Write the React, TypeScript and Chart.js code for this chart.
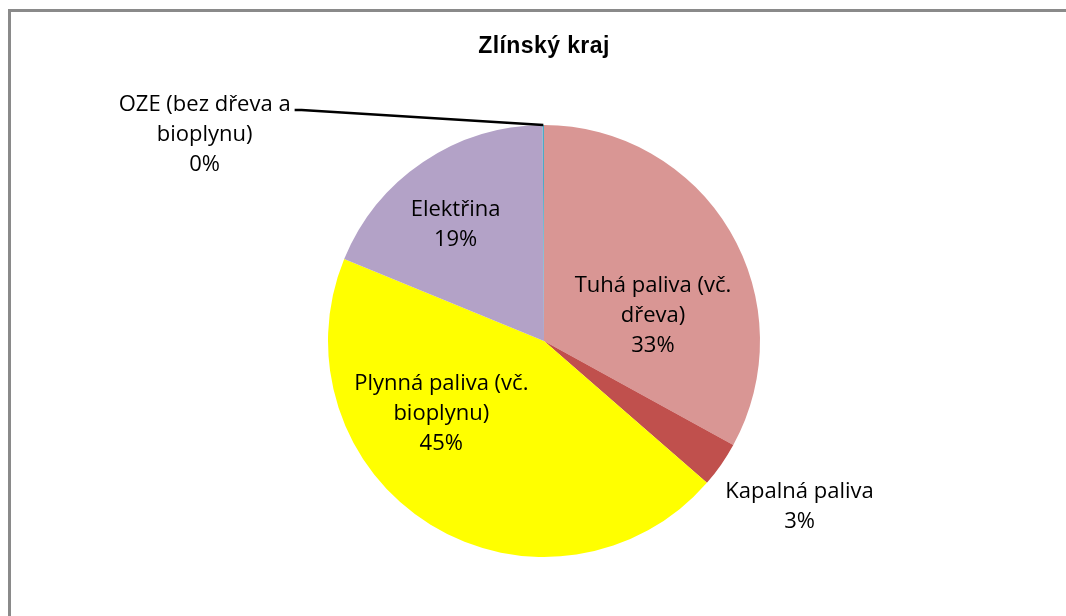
import React, { useEffect, useRef } from "react";
import { Chart, registerables } from "chart.js";

Chart.register(...registerables);

const title = "Zlínský kraj";
const categories = [
  "Tuhá paliva (vč. dřeva)",
  "Kapalná paliva",
  "Plynná paliva (vč. bioplynu)",
  "Elektřina",
  "OZE (bez dřeva a bioplynu)",
];
const labelLines = [
  ["Tuhá paliva (vč.", "dřeva)"],
  ["Kapalná paliva"],
  ["Plynná paliva (vč.", "bioplynu)"],
  ["Elektřina"],
  ["OZE (bez dřeva a", "bioplynu)"],
];
const values = [33.0, 3.4, 44.8, 18.7, 0.1];
const colors = ["#D99694", "#C0504D", "#FFFF00", "#B3A2C7", "#4BACC6"];
// label block offset from the arc's centre point (dx, dy to the middle baseline)
const labelOffsets = [
  [16, 36],
  [167, 110],
  [-46, -13],
  [-28, -20],
  [-339, -92],
];
const leaderIndex = 4;

const LABEL_FONT = "22px 'Open Sans'";
const LINE_H = 30;

const overlayPlugin = {
  id: "overlay",
  beforeDraw(chart: any) {
    const ctx = chart.ctx;
    ctx.save();
    ctx.fillStyle = "#ffffff";
    ctx.fillRect(0, 0, chart.width, chart.height);
    ctx.strokeStyle = "#8a8a8a";
    ctx.lineWidth = 3;
    ctx.strokeRect(9.5, 10.5, 1200, 800);
    ctx.restore();
  },
  afterDraw(chart: any) {
    const ctx = chart.ctx;
    const meta = chart.getDatasetMeta(0);
    const total = values.reduce((a, b) => a + b, 0);
    ctx.save();
    // title
    ctx.fillStyle = "#000";
    ctx.font = "bold 23px 'Liberation Sans', Arial, sans-serif";
    (ctx as any).letterSpacing = "0.4px";
    ctx.textAlign = "center";
    ctx.textBaseline = "alphabetic";
    ctx.fillText(title, (chart.chartArea.left + chart.chartArea.right) / 2, 53);
    (ctx as any).letterSpacing = "0px";

    ctx.font = LABEL_FONT;
    meta.data.forEach((arc: any, i: number) => {
      const c = arc.getCenterPoint();
      const [dx, dy] = labelOffsets[i];
      const cx = c.x + dx;
      const cy = c.y + dy;
      const lines = [...labelLines[i], Math.round((values[i] / total) * 100) + "%"];
      const startY = cy - ((lines.length - 1) * LINE_H) / 2;
      lines.forEach((ln, k) => ctx.fillText(ln, cx, startY + k * LINE_H));
      if (i === leaderIndex) {
        const p = arc.getProps(["x", "y", "startAngle", "endAngle", "outerRadius"], true);
        const a = (p.startAngle + p.endAngle) / 2;
        const ex = p.x + Math.cos(a) * p.outerRadius;
        const ey = p.y + Math.sin(a) * p.outerRadius;
        const w = ctx.measureText(labelLines[i][0]).width;
        const tx = cx + w / 2 + 4;
        const ty = startY - 1;
        ctx.strokeStyle = "#000";
        ctx.lineWidth = 2.5;
        ctx.beginPath();
        ctx.moveTo(tx, ty);
        ctx.lineTo(tx + 7, ty);
        ctx.lineTo(ex, ey);
        ctx.stroke();
      }
    });
    ctx.restore();
  },
};

export default function App() {
  const ref = useRef<HTMLCanvasElement>(null);
  useEffect(() => {
    if (!ref.current) return;
    const chart = new Chart(ref.current, {
      type: "pie",
      data: {
        labels: categories,
        datasets: [
          {
            data: values,
            backgroundColor: colors,
            borderWidth: 0,
          },
        ],
      },
      options: {
        responsive: false,
        animation: false,
        layout: { padding: { left: 328, right: 306, top: 125, bottom: 59 } },
        plugins: {
          legend: { display: false },
          title: { display: false },
          tooltip: { enabled: false },
        },
      },
      plugins: [overlayPlugin],
    });
    return () => chart.destroy();
  }, []);
  return (
    <div style={{ position: "fixed", left: 0, top: 0, width: 1066, height: 616 }}>
      <canvas ref={ref} width={1066} height={616} style={{ display: "block" }} />
    </div>
  );
}
